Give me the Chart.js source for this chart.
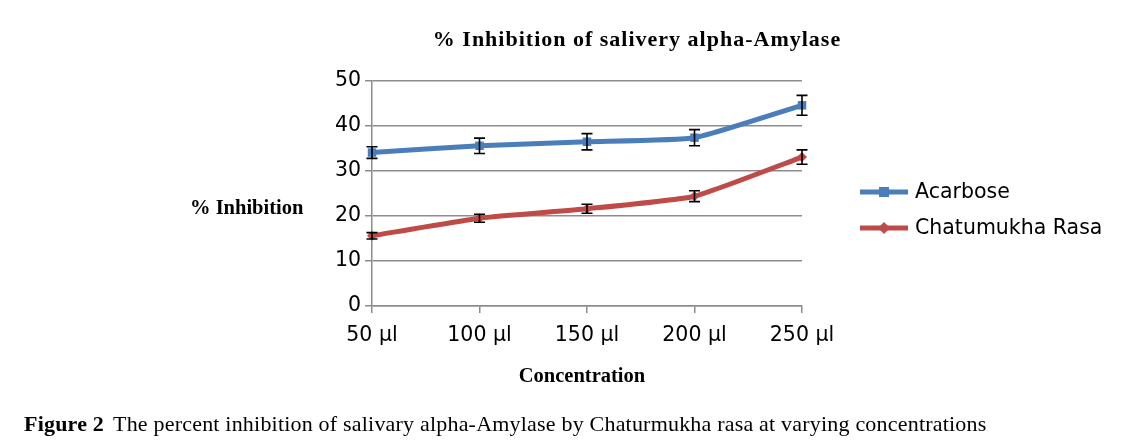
<!DOCTYPE html>
<html>
<head>
<meta charset="utf-8">
<script src="https://cdn.jsdelivr.net/npm/chart.js@4"></script>
<style>
  html, body { margin: 0; padding: 0; background: #fff; }
  #wrap { position: relative; width: 1134px; height: 446px; }
</style>
</head>
<body>
<div id="wrap"><canvas id="chart" width="1134" height="446"></canvas></div>
<script>
const concentrations = ['50 µl', '100 µl', '150 µl', '200 µl', '250 µl'];
const acarbose = [34.1, 35.6, 36.5, 37.4, 44.6];
const acarboseErr = [1.3, 1.7, 1.8, 1.8, 2.2];
const chaturmukha = [15.6, 19.5, 21.6, 24.4, 33.1];
const chaturmukhaErr = [0.7, 0.9, 1.0, 1.2, 1.6];
const yTicks = [0, 10, 20, 30, 40, 50];

const blue = '#4a7ebb';
const red = '#be4b48';

// error bars + text drawn with chart scales
const extras = {
  id: 'extras',
  afterDatasetsDraw(chart) {
    const ctx = chart.ctx;
    const x = chart.scales.x, y = chart.scales.y;
    const sets = [[acarbose, acarboseErr], [chaturmukha, chaturmukhaErr]];
    ctx.save();
    ctx.strokeStyle = '#000';
    ctx.lineWidth = 1.6;
    sets.forEach(([vals, errs]) => {
      vals.forEach((v, i) => {
        const px = x.getPixelForValue(i);
        const top = y.getPixelForValue(v + errs[i]);
        const bot = y.getPixelForValue(v - errs[i]);
        ctx.beginPath();
        ctx.moveTo(px, top); ctx.lineTo(px, bot);
        ctx.moveTo(px - 5.5, top); ctx.lineTo(px + 5.5, top);
        ctx.moveTo(px - 5.5, bot); ctx.lineTo(px + 5.5, bot);
        ctx.stroke();
      });
    });
    ctx.restore();
  },
  afterDraw(chart) {
    const ctx = chart.ctx;
    ctx.save();
    ctx.fillStyle = '#000';
    ctx.textBaseline = 'middle';
    ctx.textAlign = 'center';
    ctx.font = 'bold 22px "Liberation Serif"';
    ctx.letterSpacing = '1px';
    ctx.fillText('% Inhibition of salivery alpha-Amylase', 637, 40);
    ctx.letterSpacing = '0px';
    ctx.font = 'bold 20.5px "Liberation Serif"';
    ctx.fillText('Concentration', 582, 377);
    ctx.textAlign = 'left';
    ctx.fillText('% Inhibition', 190, 209);

    // legend
    const items = [['Acarbose', blue, 'rect', 192], ['Chatumukha Rasa', red, 'rectRot', 228]];
    items.forEach(([label, col, shape, ly]) => {
      ctx.strokeStyle = col;
      ctx.fillStyle = col;
      ctx.lineWidth = 5;
      ctx.beginPath();
      ctx.moveTo(860, ly); ctx.lineTo(908, ly);
      ctx.stroke();
      ctx.beginPath();
      if (shape === 'rect') {
        ctx.fillRect(879, ly - 5, 10, 10);
      } else {
        ctx.moveTo(884, ly - 6); ctx.lineTo(890, ly); ctx.lineTo(884, ly + 6); ctx.lineTo(878, ly);
        ctx.closePath(); ctx.fill();
      }
      ctx.fillStyle = '#000';
      ctx.font = '20.5px "DejaVu Sans"';
      ctx.fillText(label, 915, ly + 1);
    });

    // caption
    ctx.font = 'bold 22px "Liberation Serif"';
    ctx.letterSpacing = '0.2px';
    ctx.fillText('Figure 2', 24, 425);
    const w = ctx.measureText('Figure 2').width;
    ctx.font = '22px "Liberation Serif"';
    ctx.fillText('The percent inhibition of salivary alpha-Amylase by Chaturmukha rasa at varying concentrations', 24 + w + 9, 425);
    ctx.restore();
  }
};

new Chart(document.getElementById('chart'), {
  type: 'line',
  data: {
    labels: concentrations,
    datasets: [
      {
        label: 'Acarbose',
        data: acarbose,
        borderColor: blue,
        backgroundColor: blue,
        borderWidth: 5,
        pointStyle: 'rect',
        pointRadius: 6,
        pointBorderWidth: 0,
        tension: 0.15
      },
      {
        label: 'Chatumukha Rasa',
        data: chaturmukha,
        borderColor: red,
        backgroundColor: red,
        borderWidth: 5,
        pointStyle: 'rectRot',
        pointRadius: 5,
        pointBorderWidth: 0,
        tension: 0.15
      }
    ]
  },
  options: {
    responsive: false,
    animation: false,
    layout: { padding: { left: 322, right: 332, top: 81, bottom: 100 } },
    plugins: { legend: { display: false }, tooltip: { enabled: false } },
    scales: {
      x: {
        offset: false,
        afterFit: s => { s.height = 40; },
        grid: { drawOnChartArea: false, drawTicks: true, tickLength: 7, color: '#8c8c8c', lineWidth: 1.5 },
        border: { color: '#8c8c8c', width: 1.5 },
        ticks: { color: '#000', font: { family: 'DejaVu Sans', size: 20.5 }, padding: 10, maxRotation: 0 }
      },
      y: {
        min: 0, max: 50,
        afterFit: s => { s.width = 50; },
        afterBuildTicks: s => { s.ticks = yTicks.map(v => ({ value: v })); },
        grid: { color: '#8c8c8c', lineWidth: 1.5, tickLength: 7 },
        border: { color: '#8c8c8c', width: 1.5 },
        ticks: { color: '#000', font: { family: 'DejaVu Sans', size: 20.5 }, padding: 4 }
      }
    }
  },
  plugins: [extras]
});
</script>
</body>
</html>
